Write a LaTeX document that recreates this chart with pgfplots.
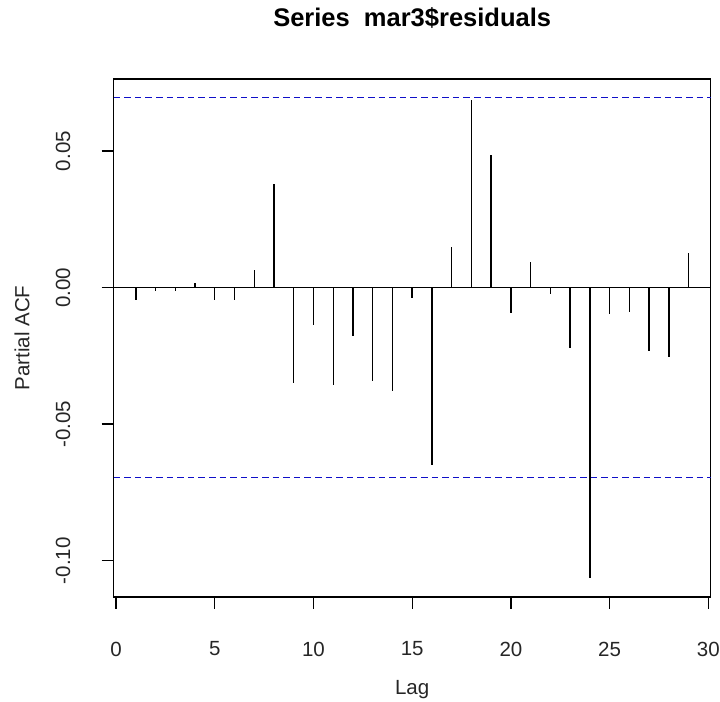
\documentclass[border=0pt]{standalone}
\usepackage{pgfplots}
\pgfplotsset{compat=1.18}
\usepackage{fontspec}
\setmainfont{Liberation Sans}
\definecolor{ciblue}{RGB}{15,15,200}
\pgfplotstableread{
lag val
1 -0.0045
2 -0.0011
3 -0.0011
4 0.0018
5 -0.0045
6 -0.0045
7 0.0063
8 0.0378
9 -0.0349
10 -0.0136
11 -0.0358
12 -0.0176
13 -0.0343
14 -0.0377
15 -0.0037
16 -0.0648
17 0.0150
18 0.0687
19 0.0486
20 -0.0092
21 0.0092
22 -0.0022
23 -0.0220
24 -0.1063
25 -0.0096
26 -0.0090
27 -0.0231
28 -0.0255
29 0.0126
}\pacf
\begin{document}
\begin{tikzpicture}
\begin{axis}[
  scale only axis,
  width=298.5pt, height=259pt,
  xmin=-0.12, xmax=30.12,
  ymin=-0.1133, ymax=0.0764,
  axis line style={line width=0.65pt},
  xtick={0,5,...,30},
  ytick={-0.10,-0.05,0,0.05},
  xtick pos=left, ytick pos=left,
  tick align=outside,
  major tick length=6pt,
  tick style={line width=0.65pt, black},
  /pgf/number format/assume math mode=true,
  yticklabel style={/pgf/number format/fixed, /pgf/number format/fixed zerofill, /pgf/number format/precision=2, rotate=90, anchor=center, inner sep=0pt},
  ticklabel style={font=\fontsize{10.25}{12}\selectfont, text=black!85},
  xticklabel style={anchor=center, inner sep=0pt},
  xticklabel shift=20pt,
  yticklabel shift=19.35pt,
  scaled y ticks=false,
  title={Series\ \ mar3\$residuals},
  every axis title/.style={at={(axis description cs:0.5,1)}, anchor=base, yshift=26pt, inner sep=0pt, font=\bfseries\fontsize{12.75}{14}\selectfont},
  xlabel={Lag},
  ylabel={Partial ACF},
  every axis x label/.style={at={(axis description cs:0.5,-0.1795)}, anchor=center, inner sep=0pt, font=\fontsize{10.25}{12}\selectfont, text=black!85},
  every axis y label/.style={at={(axis description cs:-0.1536,0.5)}, rotate=90, anchor=center, inner sep=0pt, font=\fontsize{10.25}{12}\selectfont, text=black!85},
  clip=false,
]
\addplot[black, line width=0.65pt] coordinates {(-0.12,0) (30.12,0)};
\addplot[ciblue, line width=0.7pt, dash pattern=on 3.3pt off 2pt] coordinates {(-0.12,0.0696) (30.12,0.0696)};
\addplot[ciblue, line width=0.7pt, dash pattern=on 3.3pt off 2pt] coordinates {(-0.12,-0.0696) (30.12,-0.0696)};
\addplot[ycomb, black, line width=0.7pt, mark=none] table[x=lag, y=val] {\pacf};
\coordinate (sw) at (rel axis cs:0,0);
\coordinate (ne) at (rel axis cs:1,1);
\end{axis}
\pgfresetboundingbox
\path[use as bounding box] ([shift={(-56.85pt,-52.5pt)}]sw) rectangle ([shift={(4.65pt,39.5pt)}]ne);
\end{tikzpicture}
\end{document}
